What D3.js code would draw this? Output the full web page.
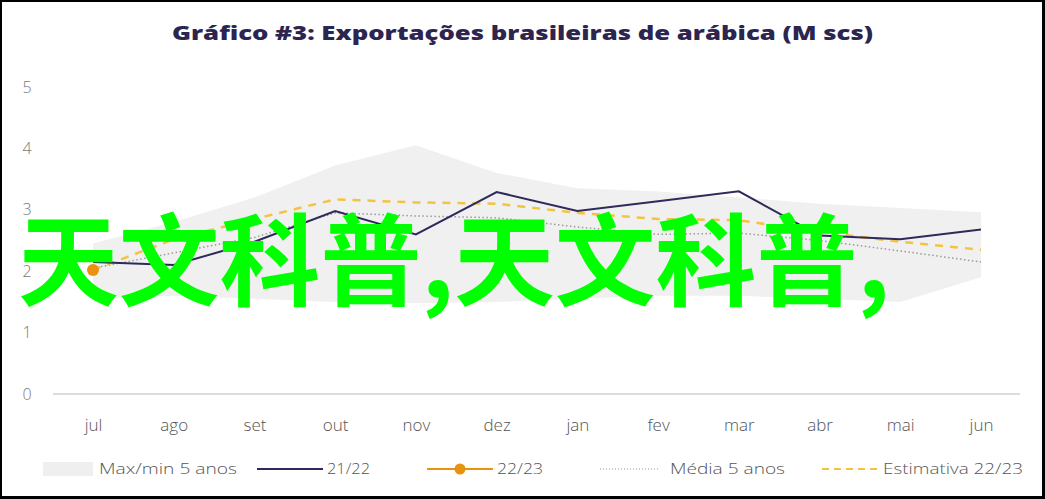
<!DOCTYPE html>
<html>
<head>
<meta charset="utf-8">
<script src="https://cdn.jsdelivr.net/npm/d3@7"></script>
<style>
  body { margin: 0; background: #fff; }
  svg { display: block; }
</style>
</head>
<body>
<svg id="chart" width="1045" height="499"></svg>
<script>
// values (M sacas)
var months = ["jul", "ago", "set", "out", "nov", "dez", "jan", "fev", "mar", "abr", "mai", "jun"];
var yTicks = [0, 1, 2, 3, 4, 5];
var bandMax = [2.45, 2.8, 3.2, 3.72, 4.05, 3.6, 3.35, 3.3, 3.2, 3.1, 3.03, 2.96];
var bandMin = [1.55, 1.6, 1.55, 1.5, 1.48, 1.5, 1.55, 1.6, 1.6, 1.55, 1.5, 1.9];
var s2122 = [2.15, 2.1, 2.48, 2.98, 2.6, 3.29, 2.98, 3.14, 3.3, 2.58, 2.52, 2.68];
var s2223 = [2.02];
var media5 = [2.05, 2.3, 2.55, 2.95, 2.9, 2.87, 2.72, 2.6, 2.62, 2.5, 2.33, 2.15];
var estimativa = [2.02, 2.52, 2.85, 3.17, 3.12, 3.1, 2.95, 2.85, 2.83, 2.64, 2.48, 2.35];
var legendItems = ["Max/min 5 anos", "21/22", "22/23", "Média 5 anos", "Estimativa 22/23"];
var titleText = "Gráfico #3: Exportações brasileiras de arábica (M scs)";
var overlayText = "天文科普,天文科普,";

var navy = "#2e2a5c", orange = "#e8920f", yellow = "#f5c343", grey = "#9a9a9a";

var svg = d3.select("#chart");

// black frame
svg.append("rect").attr("width", 1045).attr("height", 499).attr("fill", "#000");
svg.append("rect").attr("x", 2).attr("y", 2).attr("width", 1040).attr("height", 494).attr("fill", "#fff");

var x = d3.scalePoint().domain(months).range([93, 981]);
var y = d3.scaleLinear().domain([0, 5]).range([394, 87]);

// title
svg.append("text")
    .attr("x", 172).attr("y", 40)
    .attr("textLength", 701).attr("lengthAdjust", "spacingAndGlyphs")
    .attr("font-family", "Open Sans, sans-serif")
    .attr("font-weight", 800).attr("font-size", 20)
    .attr("fill", "#2b2550")
    .text(titleText);

// y labels
svg.append("g").selectAll("text").data(yTicks).enter().append("text")
    .attr("x", 27).attr("y", function(d) { return y(d); })
    .attr("dy", "0.35em").attr("text-anchor", "middle")
    .attr("font-family", "Open Sans, sans-serif").attr("font-weight", 300)
    .attr("font-size", 16).attr("fill", "#7a7a7a")
    .text(function(d) { return d; });

// baseline
svg.append("line")
    .attr("x1", 53).attr("x2", 1020).attr("y1", y(0)).attr("y2", y(0))
    .attr("stroke", "#dcdcdc").attr("stroke-width", 2);

// x labels
var xAxis = d3.axisBottom(x).tickSize(0).tickPadding(0);
var gx = svg.append("g").attr("transform", "translate(0,419)").call(xAxis);
gx.select(".domain").remove();
gx.selectAll("text")
    .attr("font-family", "Open Sans, sans-serif").attr("font-weight", 300)
    .attr("font-size", 17).attr("fill", "#555");

// max/min band
var area = d3.area()
    .x(function(d, i) { return x(months[i]); })
    .y0(function(d, i) { return y(bandMin[i]); })
    .y1(function(d) { return y(d); });
svg.append("path").datum(bandMax).attr("d", area).attr("fill", "#f0f0f0");

var line = d3.line().x(function(d, i) { return x(months[i]); }).y(function(d) { return y(d); });

svg.append("path").datum(media5).attr("d", line)
    .attr("fill", "none").attr("stroke", grey).attr("stroke-width", 1.5)
    .attr("stroke-dasharray", "1.5,2.5");

svg.append("path").datum(estimativa).attr("d", line)
    .attr("fill", "none").attr("stroke", yellow).attr("stroke-width", 2.5)
    .attr("stroke-dasharray", "8,7");

svg.append("path").datum(s2122).attr("d", line)
    .attr("fill", "none").attr("stroke", navy).attr("stroke-width", 2);

svg.append("g").selectAll("circle").data(s2223).enter().append("circle")
    .attr("cx", function(d, i) { return x(months[i]); })
    .attr("cy", function(d) { return y(d); })
    .attr("r", 6).attr("fill", orange);

// legend
var ly = 469;
var lg = svg.append("g")
    .attr("font-family", "Open Sans, sans-serif").attr("font-weight", 300)
    .attr("font-size", 14.5).attr("fill", "#555");
lg.append("rect").attr("x", 43).attr("y", ly - 7).attr("width", 50).attr("height", 14).attr("fill", "#efefef");
lg.append("line").attr("x1", 257).attr("x2", 323).attr("y1", ly).attr("y2", ly)
    .attr("stroke", navy).attr("stroke-width", 2);
lg.append("line").attr("x1", 427).attr("x2", 493).attr("y1", ly).attr("y2", ly)
    .attr("stroke", orange).attr("stroke-width", 2);
lg.append("circle").attr("cx", 460).attr("cy", ly).attr("r", 5.5).attr("fill", orange);
lg.append("line").attr("x1", 600).attr("x2", 660).attr("y1", ly).attr("y2", ly)
    .attr("stroke", grey).attr("stroke-width", 1.2).attr("stroke-dasharray", "1,2");
lg.append("line").attr("x1", 822).attr("x2", 880).attr("y1", ly).attr("y2", ly)
    .attr("stroke", yellow).attr("stroke-width", 2).attr("stroke-dasharray", "7,5");
var legendX = [99, 327, 497, 670, 883];
var legendW = [138, 43, 46, 115, 140];
lg.selectAll("text.leg").data(legendItems).enter().append("text")
    .attr("class", "leg")
    .attr("x", function(d, i) { return legendX[i]; })
    .attr("y", ly).attr("dy", "0.35em")
    .attr("textLength", function(d, i) { return legendW[i]; })
    .attr("lengthAdjust", "spacingAndGlyphs")
    .text(function(d) { return d; });

// green overlay text
svg.append("text")
    .attr("x", 18).attr("y", 298)
    .attr("textLength", 872).attr("lengthAdjust", "spacingAndGlyphs")
    .attr("font-family", "Noto Sans CJK SC, sans-serif")
    .attr("font-weight", 700).attr("font-size", 100)
    .attr("fill", "#00ff00")
    .text(overlayText);
</script>
</body>
</html>
